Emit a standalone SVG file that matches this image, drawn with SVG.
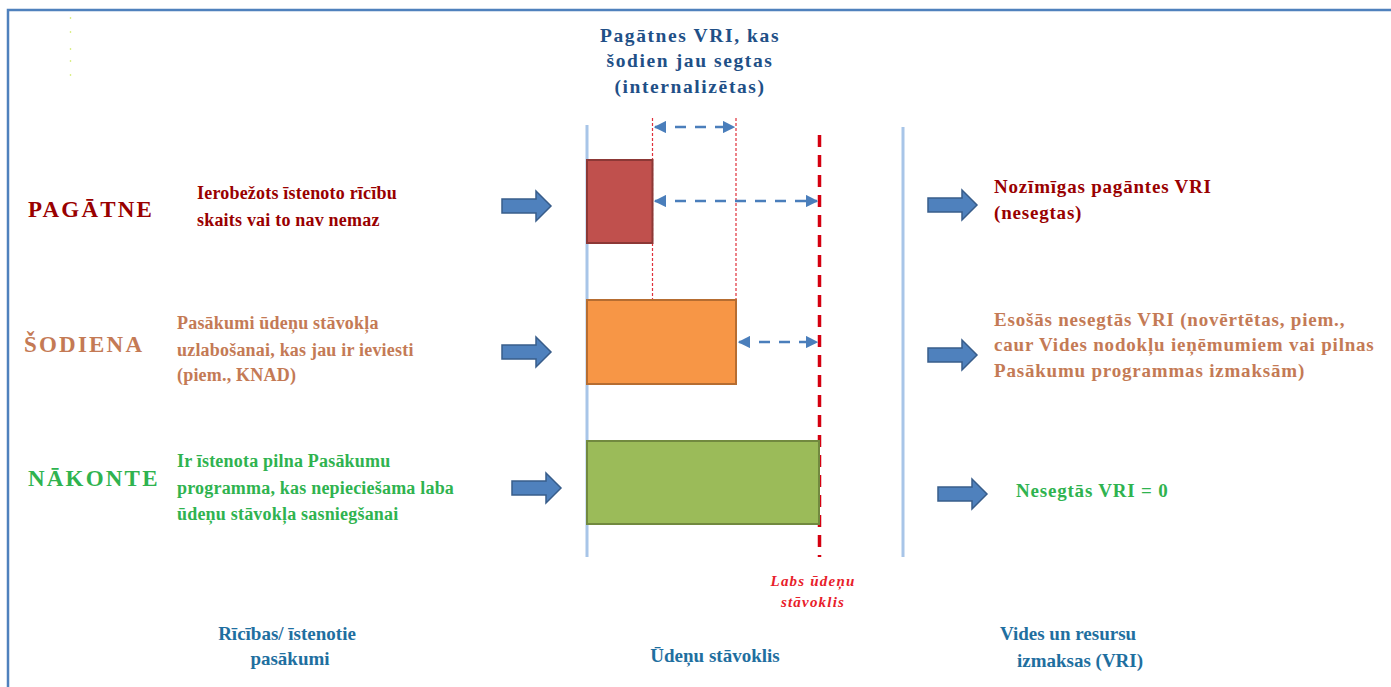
<svg xmlns="http://www.w3.org/2000/svg" width="1391" height="687" viewBox="0 0 1391 687">
<style>
.t{font-family:"Liberation Serif","DejaVu Serif",serif;font-weight:bold}
.big{font-size:23px;letter-spacing:2.2px}
.mid{font-size:18px;letter-spacing:0.2px}
.rt{font-size:19px;letter-spacing:0.8px}
.top{font-size:19.5px;letter-spacing:1.6px}
.red{fill:#990000}
.brn{fill:#c47a55}
.grn{fill:#2fb34f}
.nav{fill:#1f5087}
.bot{font-family:"Liberation Serif","DejaVu Serif",serif;font-weight:bold;font-size:19px;fill:#1f6fa0}
.lab{font-family:"Liberation Serif","DejaVu Serif",serif;font-weight:bold;font-style:italic;font-size:15px;letter-spacing:1.2px;fill:#e8202a}
.blk{fill:#4f81bd;stroke:#385d8a;stroke-width:1.5}
.dash{stroke:#4a7ebb;stroke-width:2.5;stroke-dasharray:11 9;fill:none}
</style>
<defs>
<marker id="ah" viewBox="0 0 10 10" refX="9" refY="5" markerWidth="5" markerHeight="5" orient="auto-start-reverse" markerUnits="strokeWidth">
<path d="M0,0 L10,5 L0,10 Z" fill="#4a7ebb"/>
</marker>
<path id="ba" d="M0,-7 H34 V-15 L49,0 L34,15 V7 H0 Z"/>
</defs>
<rect width="1391" height="687" fill="#fff"/>
<path d="M8,687 V10 H1391" fill="none" stroke="#4f81bd" stroke-width="2.5"/>
<g fill="#c8e64a">
<circle cx="70.5" cy="18" r="0.8"/><circle cx="70.5" cy="32" r="0.8"/><circle cx="70.5" cy="49" r="0.8"/><circle cx="70.5" cy="61" r="0.8"/><circle cx="70.5" cy="75" r="0.8"/>
</g>
<g id="axes">
<line x1="587" y1="125" x2="587" y2="557" stroke="#a8c5e8" stroke-width="3"/>
<line x1="903" y1="127" x2="903" y2="557" stroke="#a8c5e8" stroke-width="3"/>
<line x1="819.5" y1="135" x2="819.5" y2="557" stroke="#d40010" stroke-width="3.5" stroke-dasharray="12 8"/>
<line x1="652.5" y1="118" x2="652.5" y2="300" stroke="#e0303a" stroke-width="1.2" stroke-dasharray="3 2"/>
<line x1="736" y1="118" x2="736" y2="300" stroke="#e0303a" stroke-width="1.2" stroke-dasharray="3 2"/>
</g>
<g id="bar-past"><rect x="587" y="160" width="65.5" height="83" fill="#c0504d" stroke="#8c3836" stroke-width="2"/></g>
<g id="bar-today"><rect x="587" y="300" width="149" height="84" fill="#f79646" stroke="#b66d31" stroke-width="2"/></g>
<g id="bar-future"><rect x="587" y="441" width="232" height="83" fill="#9bbb59" stroke="#71893f" stroke-width="2"/></g>
<g id="connectors">
<line class="dash" x1="655" y1="127" x2="734" y2="127" marker-start="url(#ah)" marker-end="url(#ah)"/>
<line class="dash" x1="655" y1="201" x2="817" y2="201" marker-start="url(#ah)" marker-end="url(#ah)"/>
<line class="dash" x1="739" y1="342" x2="817" y2="342" marker-start="url(#ah)" marker-end="url(#ah)"/>
<use href="#ba" class="blk" x="502" y="206"/>
<use href="#ba" class="blk" x="502" y="352"/>
<use href="#ba" class="blk" x="512" y="488"/>
<use href="#ba" class="blk" x="928" y="205"/>
<use href="#ba" class="blk" x="928" y="355"/>
<use href="#ba" class="blk" x="938" y="494"/>
</g>
<g id="label-top">
<text class="t top nav" text-anchor="middle" x="690" y="42">Pagātnes VRI, kas</text>
<text class="t top nav" text-anchor="middle" x="690" y="67">šodien jau segtas</text>
<text class="t top nav" text-anchor="middle" x="690" y="93">(internalizētas)</text>
</g>
<g id="row-past">
<text class="t big red" x="28" y="217">PAGĀTNE</text>
<text class="t mid red" x="197" y="199">Ierobežots īstenoto rīcību</text>
<text class="t mid red" x="197" y="226">skaits vai to nav nemaz</text>
</g>
<g id="row-today">
<text class="t big brn" x="24" y="352">ŠODIENA</text>
<text class="t mid brn" x="177" y="329">Pasākumi ūdeņu stāvokļa</text>
<text class="t mid brn" x="177" y="356">uzlabošanai, kas jau ir ieviesti</text>
<text class="t mid brn" x="177" y="381">(piem., KNAD)</text>
</g>
<g id="row-future">
<text class="t big grn" x="28" y="486">NĀKONTE</text>
<text class="t mid grn" x="177" y="467">Ir īstenota pilna Pasākumu</text>
<text class="t mid grn" x="177" y="494">programma, kas nepieciešama laba</text>
<text class="t mid grn" x="177" y="520">ūdeņu stāvokļa sasniegšanai</text>
</g>
<g id="cost-past">
<text class="t rt red" x="994" y="193">Nozīmīgas pagāntes VRI</text>
<text class="t rt red" x="994" y="219">(nesegtas)</text>
</g>
<g id="cost-today">
<text class="t rt brn" x="994" y="326">Esošās nesegtās VRI (novērtētas, piem.,</text>
<text class="t rt brn" x="994" y="351">caur Vides nodokļu ieņēmumiem vai pilnas</text>
<text class="t rt brn" x="994" y="377">Pasākumu programmas izmaksām)</text>
</g>
<g id="cost-future">
<text class="t rt grn" x="1016" y="497">Nesegtās VRI = 0</text>
</g>
<g id="label-good">
<text class="lab" text-anchor="middle" x="813" y="586">Labs ūdeņu</text>
<text class="lab" text-anchor="middle" x="813" y="607">stāvoklis</text>
</g>
<g id="axis-labels">
<text class="bot" text-anchor="middle" x="287" y="640">Rīcības/ īstenotie</text>
<text class="bot" text-anchor="middle" x="290" y="665">pasākumi</text>
<text class="bot" text-anchor="middle" x="715" y="662">Ūdeņu stāvoklis</text>
<text class="bot" text-anchor="middle" x="1068" y="640">Vides un resursu</text>
<text class="bot" text-anchor="middle" x="1080" y="667">izmaksas (VRI)</text>
</g>
</svg>
